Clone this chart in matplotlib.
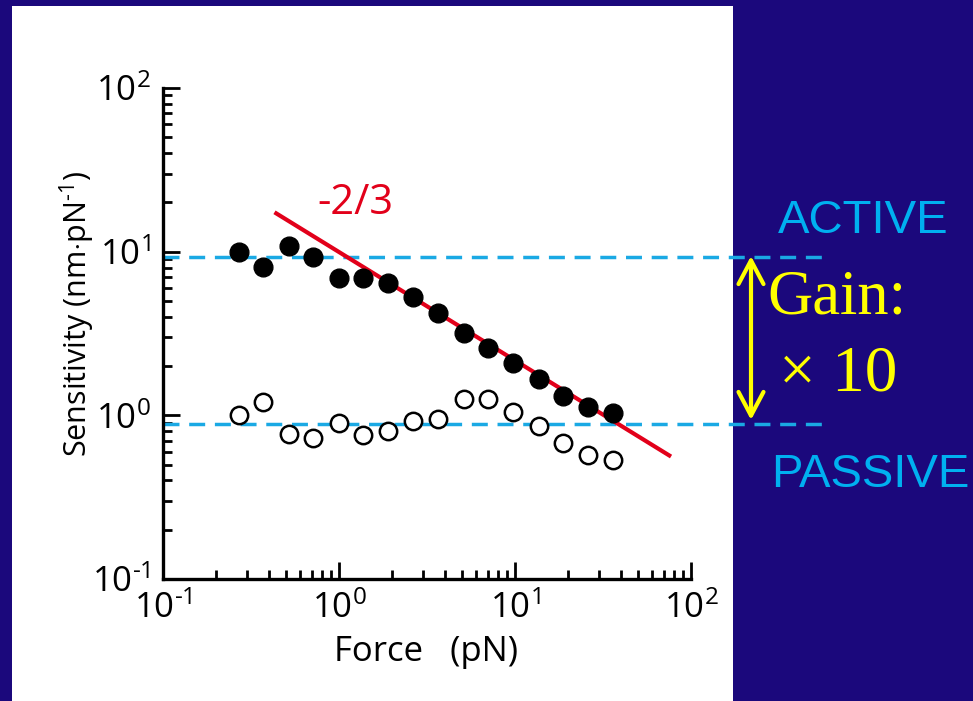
import matplotlib
matplotlib.use("Agg")
import matplotlib.pyplot as plt
from matplotlib.patches import Rectangle
from matplotlib.ticker import LogLocator, NullFormatter, FuncFormatter
import matplotlib.transforms as mtransforms
import numpy as np

# ---------------- data ----------------
force = [0.27, 0.37, 0.52, 0.71, 1.0, 1.37, 1.9, 2.64, 3.66, 5.1, 7.0, 9.8, 13.6, 18.8, 26.1, 36.1]
active = [10.0, 8.1, 10.8, 9.3, 6.9, 6.9, 6.4, 5.26, 4.2, 3.18, 2.59, 2.1, 1.66, 1.32, 1.12, 1.04]
passive = [1.0, 1.2, 0.77, 0.73, 0.90, 0.76, 0.80, 0.92, 0.95, 1.25, 1.26, 1.05, 0.86, 0.68, 0.575, 0.53]
fit_x = [0.43, 77.0]
fit_y = [17.4, 0.56]
active_level = 9.3
passive_level = 0.89
slope_label = "-2/3"
x_label = "Force   (pN)"
y_label = r"Sensitivity (nm$\cdot$pN$^{\text{-1}}$)"

plt.rcParams['font.family'] = ['Open Sans', 'DejaVu Sans']
plt.rcParams['mathtext.fontset'] = 'custom'
plt.rcParams['mathtext.rm'] = 'Open Sans'
plt.rcParams['mathtext.it'] = 'Open Sans:italic'
plt.rcParams['mathtext.bf'] = 'Open Sans:bold'
plt.rcParams['lines.scale_dashes'] = False

W, H = 973, 701
fig = plt.figure(figsize=(W / 100, H / 100), dpi=100)
fig.patch.set_facecolor('#1b087c')

def fx(px):
    return px / W

def fy(py):
    return 1 - py / H

# white panel
fig.patches.append(Rectangle((fx(12), 0), fx(733) - fx(12), fy(6), transform=fig.transFigure,
                             facecolor='white', edgecolor='none', zorder=-5))

ax = fig.add_axes([fx(163), fy(579), fx(691) - fx(163), fy(88) - fy(579)])
ax.set_zorder(2)
ax.patch.set_alpha(0)
ax.set_xscale('log')
ax.set_yscale('log')
ax.set_xlim(0.1, 100)
ax.set_ylim(0.1, 100)

for s in ['top', 'right']:
    ax.spines[s].set_visible(False)
for s in ['left', 'bottom']:
    ax.spines[s].set_linewidth(2.4)

def decade_fmt(v, pos):
    e = int(round(np.log10(v)))
    return r'$\mathdefault{10^{\text{%d}}}$' % e

for axis in [ax.xaxis, ax.yaxis]:
    axis.set_major_locator(LogLocator(base=10, numticks=10))
    axis.set_minor_locator(LogLocator(base=10, subs=range(2, 10), numticks=10))
    axis.set_minor_formatter(NullFormatter())
    axis.set_major_formatter(FuncFormatter(decade_fmt))

ax.tick_params(which='major', direction='in', length=12, width=2, labelsize=25)
ax.tick_params(axis='x', which='major', pad=9)
ax.tick_params(axis='y', which='major', pad=9)
ax.tick_params(which='minor', direction='in', length=6.5, width=2)

# dashed reference lines extending past the axes
trans = mtransforms.blended_transform_factory(ax.transAxes, ax.transData)
ext = (826 - 163) / (691 - 163)
for lvl in [active_level, passive_level]:
    ax.plot([0, ext], [lvl, lvl], transform=trans, color='#1aa9e4', lw=2.5,
            dashes=(11.5, 7), clip_on=False, zorder=2)

ax.plot(fit_x, fit_y, color='#e2001a', lw=3, zorder=3, solid_capstyle='butt')
ax.plot(force, active, 'o', color='black', ms=13.5, zorder=4)
ax.plot(force, passive, 'o', mfc='white', mec='black', mew=1.8, ms=12.5, zorder=4)

fig.text(fx(355), fy(203), slope_label, color='#e2001a', fontsize=30, ha='center', va='center')
fig.text(fx(426), fy(652), x_label, fontsize=25, ha='center', va='center')
fig.text(fx(77), fy(314), y_label, fontsize=22, rotation=90, ha='center', va='center')

# right-hand annotations
fig.text(fx(863), fy(221), "ACTIVE", color='#00b0f0', fontsize=34, family='Liberation Sans',
         ha='center', va='center')
fig.text(fx(870), fy(475), "PASSIVE", color='#00b0f0', fontsize=34, family='Liberation Sans',
         ha='center', va='center')
fig.text(fx(837), fy(298), "Gain:", color='#ffff00', fontsize=45, family='Liberation Serif',
         ha='center', va='center')
fig.text(fx(838), fy(375), "\u00d7 10", color='#ffff00', fontsize=47, family='Liberation Serif',
         ha='center', va='center')
ax.annotate('', xy=(751, H - 256), xytext=(751, H - 420), xycoords='figure pixels',
            textcoords='figure pixels',
            arrowprops=dict(arrowstyle='<->,head_length=0.85,head_width=0.45', color='#ffff00',
                            lw=3, mutation_scale=20, shrinkA=0, shrinkB=0))

fig.savefig('out.png', dpi=100, facecolor=fig.get_facecolor())
